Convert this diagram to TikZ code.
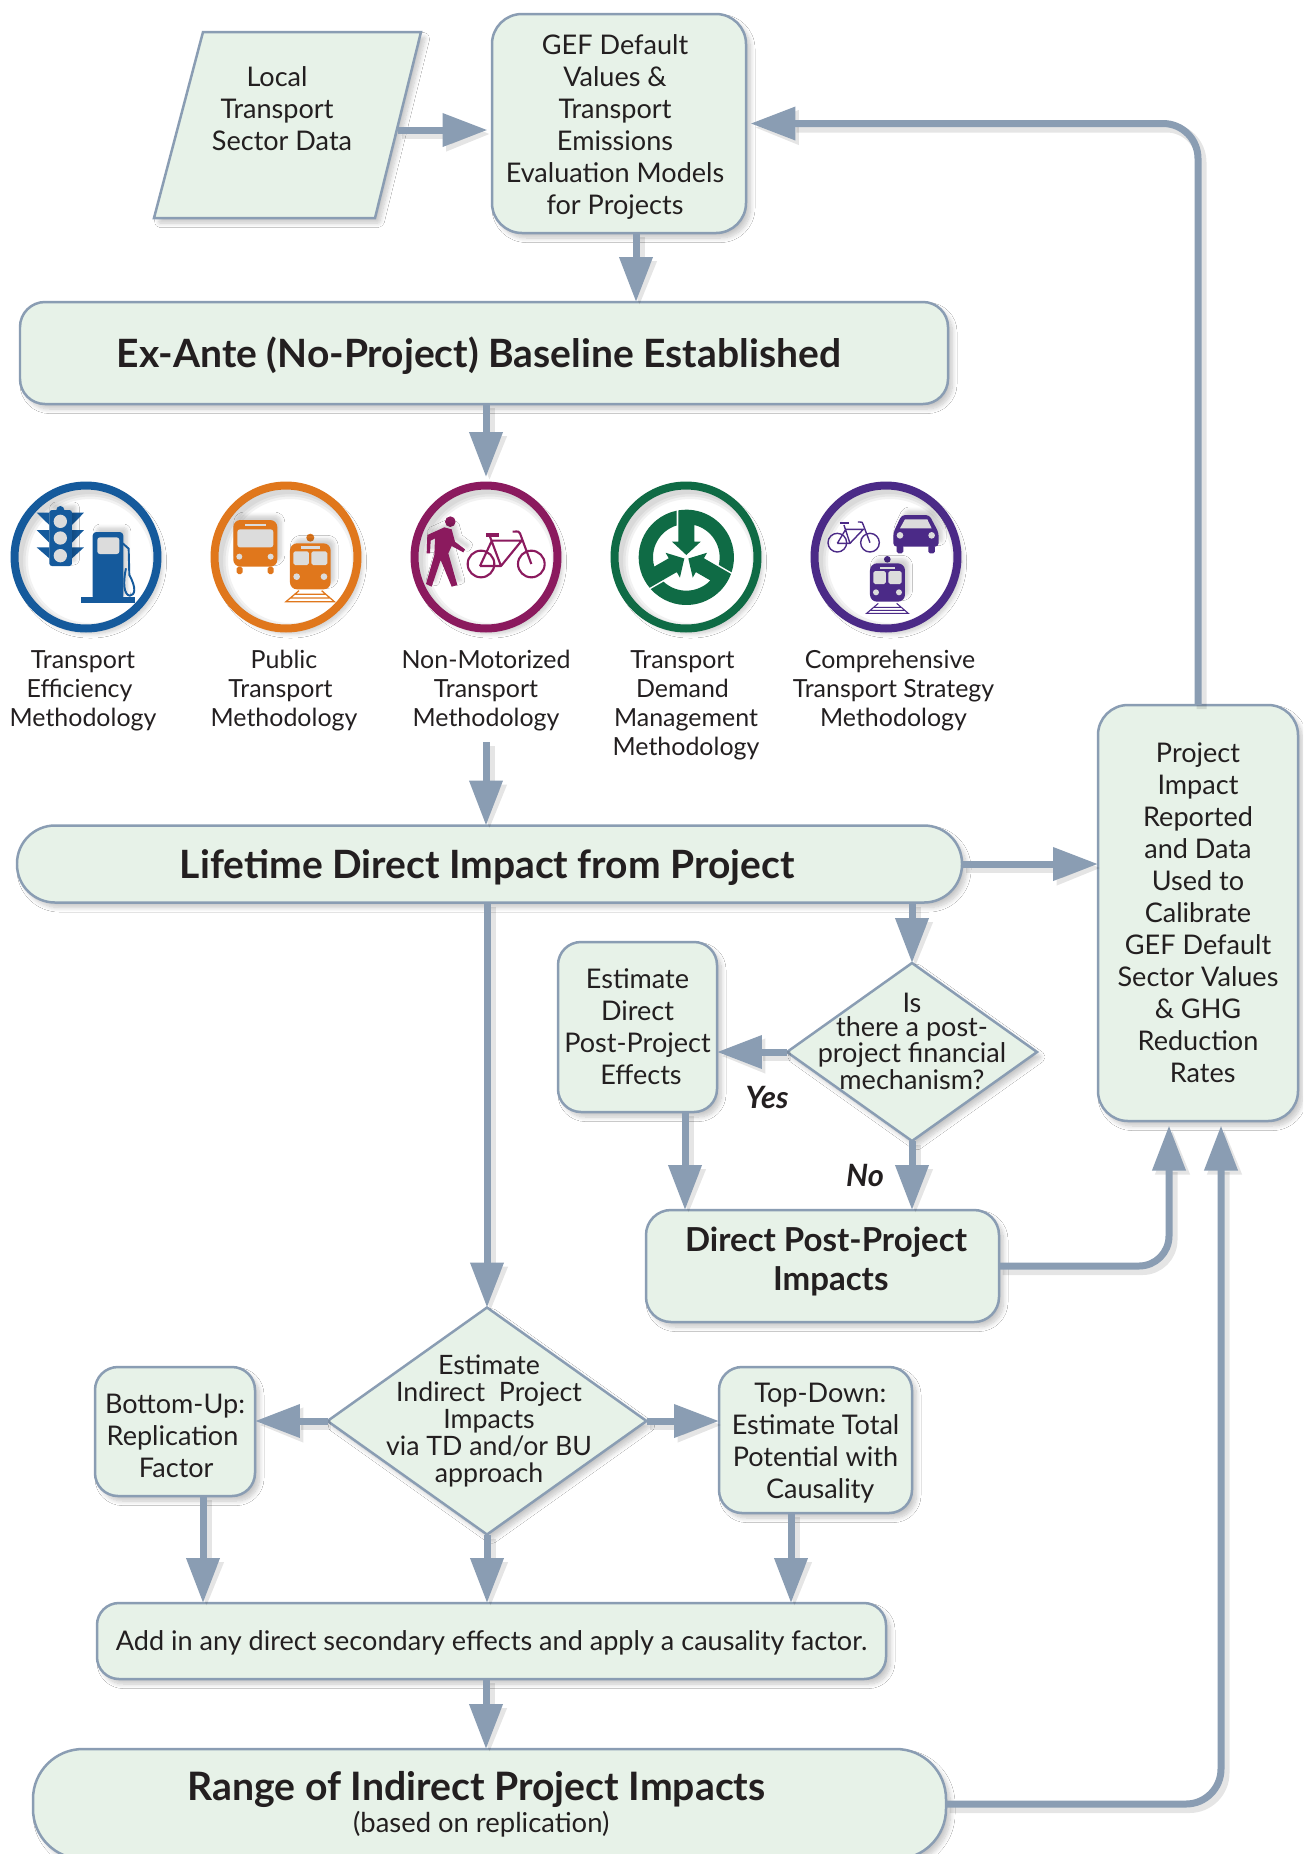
\documentclass[tikz,border=0pt]{standalone}
\usepackage{fontspec}
\setmainfont{Lato}
\usetikzlibrary{shapes.geometric,arrows.meta,shadows.blur,calc}
\definecolor{edge}{HTML}{8A9DB3}
\definecolor{boxfill}{HTML}{E7F2E8}
\definecolor{ink}{HTML}{231F20}
\definecolor{iblue}{HTML}{155A9C}
\definecolor{iorange}{HTML}{E0771C}
\definecolor{iplum}{HTML}{8B1A5E}
\definecolor{igreen}{HTML}{0F6B45}
\definecolor{ipurple}{HTML}{4B2A87}
\definecolor{lamp}{HTML}{DCDCDC}
\newcommand{\sh}[1]{\hspace*{#1}}
\newcommand{\down}[1]{\rule{0pt}{\dimexpr 0.75em+#1\relax}}
\tikzset{
  softshadow/.style={blur shadow={shadow xshift=0.09cm,shadow yshift=-0.1cm,shadow blur radius=0.09cm,shadow blur steps=10,shadow blur extra rounding=0.03cm,shadow opacity=22}},
  iconshadow/.style={blur shadow={shadow xshift=0.08cm,shadow yshift=0.09cm,shadow blur radius=0.07cm,shadow blur steps=6,shadow opacity=18}},
  wh/.style 2 args={minimum width=#1*0.02cm,minimum height=#2*0.02cm},
  box/.style={draw=edge,fill=boxfill,line width=0.05cm,rounded corners=#1,align=center,text=ink,inner sep=0pt,outer sep=0pt,softshadow,font=\fontsize{15.4}{18.2}\selectfont},
  box/.default=0.6cm,
  dia/.style={diamond,draw=edge,fill=boxfill,line width=0.05cm,inner sep=0pt,outer sep=0pt,softshadow},
  ring/.style={circle,draw=#1,fill=white,line width=0.16cm,minimum size=2.86cm,inner sep=0pt,outer sep=0.08cm,softshadow},
  captext/.style={align=center,text=ink,inner sep=0pt,font=\fontsize{14.2}{16.5}\selectfont},
  txt/.style={align=center,text=ink,inner sep=0pt},
  heading/.style={font=\fontsize{#1}{25}\selectfont\bfseries},
  arrow/.style={draw=edge,line width=0.14cm,-{Triangle[length=0.9cm,width=0.64cm]},
    preaction={draw=black,opacity=.10,line width=0.2cm,transform canvas={shift={(0.07cm,-0.08cm)}}}},
  gap/.style={shorten >=0.09cm},
  icon/.style={shift={#1},x=0.006667cm,y=0.006667cm,yscale=-1},
}
\begin{document}
\begin{tikzpicture}[x=0.02cm,y=-0.02cm]
\path[use as bounding box,clip] (0,0) rectangle (1303,1854);
\fill[white] (0,0) rectangle (1303,1854);

% parallelogram
\path[draw=edge,fill=boxfill,line width=0.05cm,softshadow] (203,32) -- (421,32) -- (375,218) -- (154,218) -- cycle;
\node[txt,font=\fontsize{15.4}{18.2}\selectfont] (local) at (277,109) {Local\\Transport\\\sh{0.2cm}Sector Data};
\coordinate (localr) at (398,130);

% boxes
\node[box,wh={254}{219}] (gef) at (619,123.5) {\down{0.14cm}\sh{-0.16cm}GEF Default\\\sh{-0.16cm}Values \&\\\sh{-0.16cm}Transport\\\sh{-0.16cm}Emissions\\\sh{-0.16cm}Evaluation Models\\\sh{-0.16cm}for Projects};
\node[box=0.5cm,wh={928}{102},heading=22.2] (exante) at (484,353) {\down{0.12cm}\sh{-0.21cm}Ex-Ante (No-Project) Baseline Established};

% icon rings
\node[ring=iblue] (icon1) at (86,557) {};
\node[ring=iorange] (icon2) at (286,557) {};
\node[ring=iplum] (icon3) at (486,557) {};
\node[ring=igreen] (icon4) at (686,557) {};
\node[ring=ipurple] (icon5) at (886,557) {};
\foreach \c in {icon1,icon2,icon3,icon4,icon5}{
  \begin{scope}
    \clip (\c.center) circle[radius=67.5];
    \foreach \w in {0.36cm,0.26cm,0.16cm}
      \draw[black,opacity=.05,line width=\w] ($(\c.center)+(4,4)$) circle[radius=71];
  \end{scope}
}

% icon 1: traffic light and fuel pump
\begin{scope}[icon={(0,460)}]
  \fill[iblue] (110,158) -- (148,158) -- (148,195) -- cycle (110,210) -- (148,210) -- (148,248) -- cycle (110,262) -- (148,262) -- (148,295) -- cycle;
  \fill[iblue] (252,158) -- (216,158) -- (216,195) -- cycle (252,210) -- (216,210) -- (216,248) -- cycle (252,262) -- (216,262) -- (216,295) -- cycle;
  \fill[iblue,rounded corners=1.5pt,iconshadow] (148,150) rectangle (216,318);
  \fill[iblue] (181,150) circle[radius=12];
  \fill[lamp] (181,184) circle[radius=20] (181,234) circle[radius=20] (181,287) circle[radius=20];
  \fill[iblue,rounded corners=2pt,iconshadow] (278,420) -- (278,216) -- (370,216) -- (370,420) -- cycle;
  \fill[iblue] (243,410) rectangle (405,428);
  \fill[lamp,rounded corners=1.5pt] (292,232) rectangle (358,282);
  \draw[iblue,line width=1.1pt] (368,250) -- (386,266) -- (388,345) .. controls (410,385) and (405,405) .. (390,407) .. controls (372,405) and (368,370) .. (378,325);
\end{scope}

% icon 2: bus and train
\begin{scope}[icon={(0,460)}]
  \fill[iorange,rounded corners=4pt,iconshadow] (700,320) -- (700,180) -- (832,180) -- (832,320) -- cycle;
  \fill[iorange,rounded corners=1pt] (710,320) rectangle (728,342) (803,320) rectangle (821,342);
  \fill[lamp] (735,192) rectangle (797,198);
  \fill[lamp,rounded corners=1.5pt] (712,208) rectangle (820,262);
  \fill[lamp] (718,290) circle[radius=9] (812,290) circle[radius=9];
  \fill[iorange] (931,233) circle[radius=12];
  \fill[iorange,rounded corners=4pt,iconshadow] (870,388) -- (870,250) -- (992,250) -- (992,388) -- cycle;
  \fill[lamp] (903,257) rectangle (960,266);
  \fill[lamp,rounded corners=1pt] (880,274) rectangle (927,315) (934,274) rectangle (982,315);
  \fill[lamp] (890,350) circle[radius=10] (972,350) circle[radius=10];
  \draw[iorange,line width=0.7pt] (897,392) -- (858,425) -- (1003,425) -- (965,392) (885,403) -- (977,403) (872,414) -- (990,414);
\end{scope}

% icon 3: pedestrian and bicycle
\begin{scope}[icon={(400,470)}]
  \fill[iplum] (151,155) circle[radius=16];
  \fill[iplum,line join=round,iconshadow] (82,195) -- (133,172) -- (155,178) -- (165,215) -- (195,238) -- (190,247) -- (155,228) -- (145,250) -- (172,345) -- (155,350) -- (122,270) -- (95,350) -- (78,342) -- (103,255) -- (105,205) -- (92,212) -- (90,250) -- (80,250) -- cycle;
  \draw[iplum,line width=1.2pt] (243,282) circle[radius=40] (394,282) circle[radius=40];
  \draw[iplum,line width=1.2pt,line join=round] (240,288) -- (303,288) -- (270,200) (275,213) -- (240,288) (272,212) -- (365,212) -- (303,288) (394,282) -- (360,190) .. controls (357,184) .. (338,185);
  \draw[iplum,line width=1.8pt] (258,195) -- (298,195);
\end{scope}

% icon 4: three converging arrows
\begin{scope}[icon={(500,460)}]
  \foreach \r in {0,120,240}{
    \begin{scope}[shift={(559,292)},rotate=\r]
      \fill[igreen] (-99.66:143) arc[start angle=-99.66,end angle=18.3,radius=143] -- (13.1:100) arc[start angle=13.1,end angle=-76.1,radius=100] -- (24,-47) -- (43,-47) -- (0,-7) -- (-43,-47) -- (-24,-47) -- cycle;
    \end{scope}
  }
\end{scope}

% icon 5: bicycle, car and train
\begin{scope}[icon={(500,460)}]
  \draw[ipurple,line width=0.8pt] (1012,248) circle[radius=28] (1110,248) circle[radius=28];
  \draw[ipurple,line width=0.8pt,line join=round] (1012,250) -- (1050,250) -- (1032,195) (1036,210) -- (1012,250) (1034,208) -- (1090,208) -- (1050,250) (1110,248) -- (1090,195) .. controls (1088,186) .. (1074,186);
  \draw[ipurple,line width=1.2pt] (1020,190) -- (1046,190);
  \fill[ipurple,rounded corners=2pt,iconshadow] (1180,260) -- (1180,218) -- (1205,165) -- (1288,165) -- (1316,218) -- (1316,260) -- cycle;
  \fill[ipurple,rounded corners=1pt] (1190,255) rectangle (1210,280) (1285,255) rectangle (1305,280);
  \fill[lamp] (1215,178) -- (1282,178) -- (1295,205) -- (1200,205) -- cycle;
  \fill[lamp] (1200,226) circle[radius=10] (1295,226) circle[radius=10];
  \fill[ipurple] (1162,298) circle[radius=10];
  \fill[ipurple,rounded corners=4pt,iconshadow] (1110,425) -- (1110,310) -- (1215,310) -- (1215,425) -- cycle;
  \fill[lamp] (1140,320) rectangle (1185,328);
  \fill[lamp,rounded corners=1pt] (1120,333) rectangle (1158,372) (1165,333) rectangle (1205,372);
  \fill[lamp] (1128,397) circle[radius=9] (1197,397) circle[radius=9];
  \draw[ipurple,line width=0.6pt] (1135,430) -- (1100,460) -- (1225,460) -- (1190,430) (1122,442) -- (1203,442) (1112,451) -- (1213,451);
\end{scope}

% captions
\node[captext] (cap1) at (83,690.5) {Transport\\\sh{-0.14cm}Efficiency\\Methodology};
\node[captext] (cap2) at (284,690.5) {Public\\\sh{-0.14cm}Transport\\Methodology};
\node[captext] (cap3) at (486,690.5) {Non-Motorized\\Transport\\Methodology};
\node[captext] (cap4) at (686,705) {\sh{-0.14cm}Transport\\\sh{-0.14cm}Demand\\Management\\Methodology};
\node[captext] (cap5) at (890,690.5) {Comprehensive\\\sh{0.14cm}Transport Strategy\\\sh{0.14cm}Methodology};

\node[box=0.76cm,wh={945}{77},heading=22.2] (life) at (489.5,864) {\down{0.14cm}\sh{-0.09cm}Lifetime Direct Impact from Project};
\node[box,wh={200}{416}] (project) at (1198,913) {Project\\Impact\\Reported\\and Data\\Used to\\Calibrate\\GEF Default\\Sector Values\\\&\ GHG\\Reduction\\\sh{0.19cm}Rates};
\node[box=0.46cm,wh={159}{170}] (est) at (637.5,1027) {Estimate\\Direct\\Post-Project\\\sh{0.14cm}Effects};
\node[dia,wh={250}{178}] (dia1) at (912,1052) {};
\node[txt,font=\fontsize{15.4}{13.8}\selectfont] (dia1text) at (912,1041) {Is\\there a post-\\project financial\\mechanism?};
\node[txt,font=\fontsize{17.5}{18}\selectfont\bfseries\itshape] (yes) at (767,1097) {Yes};
\node[txt,font=\fontsize{17.5}{18}\selectfont\bfseries\itshape] (no) at (865,1175) {No};
\node[box=0.5cm,wh={353}{112},font=\fontsize{18.8}{22}\selectfont\bfseries] (dpp) at (822.5,1266) {\sh{0.14cm}Direct Post-Project\\\sh{0.33cm}Impacts\rule[-0.3cm]{0pt}{0pt}};
\node[dia,wh={319}{227}] (dia2) at (487,1421) {};
\node[txt,font=\fontsize{15.2}{15.4}\selectfont] (dia2text) at (489,1421) {Estimate\\Indirect\ \ Project\\Impacts\\via TD and/or BU\\approach};
\node[box=0.46cm,wh={160}{129}] (bu) at (175,1431.5) {\down{0.14cm}Bottom-Up:\\\sh{-0.1cm}Replication\\\sh{0.05cm}Factor};
\node[box=0.46cm,wh={193}{146}] (td) at (815.5,1440) {\down{0.1cm}\sh{0.19cm}Top-Down:\\Estimate Total\\Potential with\\\sh{0.19cm}Causality};
\node[box=0.44cm,wh={789}{76}] (add) at (491.5,1641) {\down{0.06cm}Add in any direct secondary effects and apply a causality factor.};
\node[box=1cm,wh={913}{110},heading=22.3] (range) at (489.5,1804) {\sh{-0.52cm}Range of Indirect Project Impacts\\[-7pt]{\fontsize{15.6}{16}\selectfont\mdseries\sh{-0.33cm}(based on replication)}};

% connectors
\draw[arrow,gap] (localr) -- (localr -| gef.west);
\draw[arrow] (gef.south -| 636,0) -- (exante.north -| 636,0);
\draw[arrow,gap] (exante.south -| icon3.north) -- (icon3.north);
\draw[arrow] (486,742) -- (life.north -| 486,0);
\draw[arrow] (life.east) -- (life.east -| project.west);
\draw[arrow] (life.south -| dia1.north) -- (dia1.north);
\draw[arrow] (dia1.west) -- (dia1.west -| est.east);
\draw[arrow] (est.south -| 685,0) -- (dpp.north -| 685,0);
\draw[arrow] (dia1.south) -- (dpp.north -| dia1.south);
\draw[arrow] (life.south -| dia2.north) -- (dia2.north);
\draw[arrow] (dia2.west) -- (dia2.west -| bu.east);
\draw[arrow] (dia2.east) -- (dia2.east -| td.west);
\draw[arrow] (bu.south -| 203,0) -- (add.north -| 203,0);
\draw[arrow] (dia2.south) -- (add.north -| dia2.south);
\draw[arrow] (td.south -| 791,0) -- (add.north -| 791,0);
\draw[arrow] (add.south -| 486,0) -- (range.north -| 486,0);
\draw[arrow,gap,rounded corners=0.6cm] (dpp.east) -| (project.south -| 1169,0);
\draw[arrow,gap,rounded corners=0.7cm] (range.east) -| (project.south -| 1221,0);
\draw[arrow,gap,rounded corners=0.7cm] (project.north) |- (gef.east);
\end{tikzpicture}
\end{document}
